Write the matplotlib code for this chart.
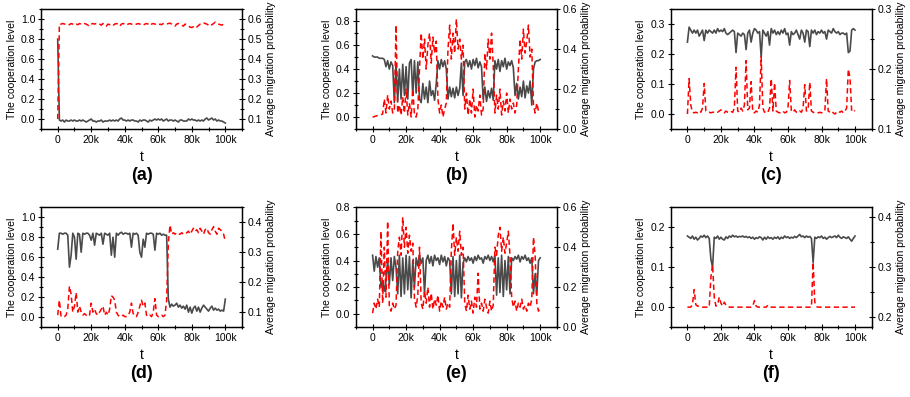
import matplotlib
matplotlib.use('Agg')
import matplotlib.pyplot as plt
from matplotlib.ticker import MultipleLocator, FixedLocator, FormatStrFormatter

plt.rcParams['font.family'] = ['Liberation Sans', 'DejaVu Sans']

# time steps (in thousands)
t_k = list(range(0, 101))

a_coop = [0.80, -0.01, -0.02, -0.01, -0.03, -0.01, -0.02, -0.02, -0.01, -0.02,
          -0.01, -0.02, -0.02, -0.01, -0.02, -0.01, -0.02, -0.03, -0.02, -0.01,
          0.00, -0.02, -0.02, -0.03, -0.02, -0.02, -0.01, -0.03, -0.02, -0.02,
          -0.02, -0.01, -0.02, -0.01, -0.02, -0.01, -0.02, 0.00, 0.01, -0.01,
          -0.01, -0.02, -0.01, -0.02, -0.01, -0.01, -0.02, -0.02, -0.03, -0.01,
          -0.02, -0.01, -0.01, -0.02, -0.03, -0.01, -0.02, -0.01, 0.00, -0.01,
          0.00, -0.01, 0.00, -0.02, -0.01, 0.00, -0.02, -0.01, -0.01, -0.02,
          -0.01, -0.02, -0.03, -0.01, -0.01, -0.02, -0.02, -0.02, 0.00, -0.01,
          0.00, -0.01, -0.01, -0.02, -0.01, -0.02, -0.01, -0.02, 0.00, 0.01,
          -0.01, 0.00, 0.01, -0.01, 0.00, -0.02, -0.01, -0.02, -0.02, -0.03, -0.04]
a_mig = [0.10, 0.575, 0.575, 0.578, 0.575, 0.578, 0.575, 0.572, 0.578, 0.575,
         0.570, 0.575, 0.572, 0.578, 0.575, 0.575, 0.578, 0.575, 0.570, 0.565,
         0.575, 0.578, 0.575, 0.578, 0.580, 0.575, 0.570, 0.578, 0.575, 0.565,
         0.575, 0.572, 0.575, 0.568, 0.575, 0.578, 0.575, 0.565, 0.575, 0.578,
         0.575, 0.570, 0.575, 0.578, 0.575, 0.575, 0.572, 0.575, 0.578, 0.575,
         0.575, 0.570, 0.575, 0.578, 0.575, 0.568, 0.575, 0.578, 0.575, 0.575,
         0.570, 0.575, 0.572, 0.578, 0.575, 0.575, 0.578, 0.580, 0.575, 0.570,
         0.565, 0.575, 0.578, 0.575, 0.570, 0.565, 0.575, 0.572, 0.565, 0.560,
         0.558, 0.562, 0.555, 0.560, 0.568, 0.575, 0.578, 0.582, 0.578, 0.575,
         0.570, 0.565, 0.572, 0.578, 0.585, 0.578, 0.575, 0.572, 0.570, 0.575, 0.575]

b_coop = [0.51, 0.50, 0.50, 0.50, 0.49, 0.49, 0.49,
          0.48, 0.42, 0.47, 0.40, 0.46, 0.43,
          0.12,
          0.45, 0.13, 0.40, 0.15, 0.44, 0.18, 0.42, 0.15, 0.45,
          0.48, 0.18, 0.47, 0.20, 0.46, 0.15,
          0.12, 0.28, 0.15, 0.25, 0.12, 0.30, 0.18, 0.22, 0.14, 0.28,
          0.47, 0.40, 0.48, 0.42, 0.47, 0.40,
          0.15, 0.25, 0.17, 0.24, 0.16, 0.25, 0.18, 0.24,
          0.45, 0.18, 0.46,
          0.48, 0.42, 0.47, 0.40, 0.48, 0.43, 0.49, 0.41, 0.46, 0.42,
          0.15, 0.25, 0.13, 0.22, 0.16, 0.24, 0.14,
          0.47, 0.40, 0.48, 0.38, 0.47, 0.42, 0.49, 0.40, 0.46, 0.43, 0.47, 0.41,
          0.18, 0.28, 0.15, 0.25, 0.17, 0.30, 0.16, 0.26, 0.20, 0.30,
          0.10, 0.40, 0.46, 0.47, 0.47, 0.48]
b_mig = [0.060, 0.062, 0.065, 0.068, 0.070, 0.072, 0.075,
         0.15, 0.08, 0.17, 0.10, 0.14, 0.08,
         0.10, 0.52, 0.08,
         0.12, 0.07, 0.16, 0.08, 0.20, 0.07, 0.13,
         0.06, 0.20, 0.07, 0.06, 0.10,
         0.30, 0.48, 0.35, 0.45, 0.30, 0.42, 0.48, 0.33, 0.46, 0.38, 0.44,
         0.15, 0.08, 0.12, 0.06, 0.10, 0.13,
         0.40, 0.52, 0.35, 0.48, 0.38, 0.55, 0.40, 0.45, 0.35, 0.42,
         0.10, 0.18, 0.07, 0.15, 0.08, 0.20, 0.06, 0.12, 0.09, 0.17, 0.07, 0.10,
         0.38, 0.30, 0.45, 0.35, 0.48, 0.32,
         0.08, 0.17, 0.10, 0.20, 0.07, 0.14, 0.09, 0.18, 0.08, 0.15, 0.10, 0.13, 0.08, 0.12,
         0.30, 0.45, 0.35, 0.50, 0.38, 0.44, 0.52, 0.36, 0.40,
         0.12, 0.08, 0.13, 0.09, 0.08]

c_coop = [0.24, 0.29, 0.28, 0.27, 0.28, 0.27, 0.28, 0.26, 0.27, 0.28,
          0.245, 0.28, 0.27, 0.28, 0.275, 0.27, 0.28, 0.27, 0.285, 0.275,
          0.28, 0.275, 0.285, 0.27, 0.265, 0.27, 0.275, 0.28, 0.275, 0.205,
          0.27, 0.265, 0.26, 0.27, 0.265, 0.215, 0.27, 0.28, 0.24, 0.27,
          0.285, 0.28, 0.27, 0.275, 0.19, 0.28, 0.27, 0.26, 0.275, 0.23,
          0.285, 0.27, 0.28, 0.265, 0.275, 0.265, 0.28, 0.27, 0.285, 0.265,
          0.27, 0.23, 0.275, 0.265, 0.27, 0.28, 0.265, 0.25, 0.28, 0.27,
          0.24, 0.28, 0.275, 0.225, 0.28, 0.27, 0.28, 0.265, 0.275, 0.27,
          0.28, 0.27, 0.275, 0.25, 0.28, 0.275, 0.27, 0.285, 0.275, 0.27,
          0.275, 0.265, 0.27, 0.27, 0.265, 0.27, 0.205, 0.21, 0.28, 0.285, 0.28]
c_mig = [0.125, 0.184, 0.14, 0.128, 0.127, 0.128, 0.127, 0.13, 0.128, 0.135,
         0.176, 0.13, 0.128, 0.128, 0.127, 0.128, 0.128, 0.129, 0.128, 0.13,
         0.132, 0.128, 0.127, 0.13, 0.128, 0.127, 0.129, 0.128, 0.135, 0.203,
         0.13, 0.128, 0.135, 0.13, 0.14, 0.214, 0.132, 0.135, 0.179, 0.128,
         0.127, 0.13, 0.128, 0.14, 0.221, 0.135, 0.128, 0.13, 0.128, 0.135,
         0.184, 0.13, 0.177, 0.13, 0.128, 0.127, 0.128, 0.13, 0.127, 0.128,
         0.135, 0.181, 0.13, 0.128, 0.132, 0.128, 0.127, 0.13, 0.128, 0.135,
         0.174, 0.13, 0.132, 0.178, 0.13, 0.128, 0.127, 0.128, 0.127, 0.128,
         0.127, 0.128, 0.13, 0.184, 0.13, 0.128, 0.13, 0.127, 0.125, 0.128,
         0.13, 0.128, 0.13, 0.127, 0.13, 0.135, 0.2, 0.185, 0.13, 0.132, 0.13]

d_coop = [0.68, 0.84, 0.84, 0.83, 0.84, 0.84, 0.82, 0.50, 0.62, 0.84,
          0.80, 0.58, 0.84, 0.83, 0.65, 0.84, 0.83, 0.84, 0.84, 0.82,
          0.77, 0.84, 0.72, 0.84, 0.83, 0.82, 0.84, 0.73, 0.84, 0.83,
          0.82, 0.84, 0.62, 0.80, 0.60, 0.84, 0.82, 0.84, 0.85, 0.83,
          0.84, 0.84, 0.83, 0.84, 0.70, 0.84, 0.83, 0.84, 0.82, 0.65,
          0.60, 0.78, 0.70, 0.84, 0.83, 0.84, 0.84, 0.83, 0.67, 0.84,
          0.83, 0.84, 0.82, 0.83, 0.82, 0.82, 0.18, 0.10, 0.13, 0.11,
          0.12, 0.14, 0.10, 0.12, 0.09, 0.11, 0.08, 0.12, 0.05, 0.10,
          0.04, 0.09, 0.11, 0.06, 0.10, 0.05, 0.09, 0.12, 0.10, 0.08,
          0.06, 0.09, 0.11, 0.07, 0.09, 0.07, 0.08, 0.06, 0.07, 0.06, 0.18]
d_mig = [0.09, 0.14, 0.085, 0.085, 0.085, 0.09, 0.11, 0.187, 0.16, 0.10,
         0.12, 0.165, 0.10, 0.12, 0.10, 0.09, 0.095, 0.09, 0.085, 0.09,
         0.13, 0.10, 0.11, 0.095, 0.09, 0.10, 0.11, 0.12, 0.09, 0.10,
         0.09, 0.11, 0.155, 0.15, 0.14, 0.10, 0.09, 0.085, 0.085, 0.09,
         0.085, 0.085, 0.09, 0.10, 0.13, 0.095, 0.09, 0.085, 0.10, 0.12,
         0.14, 0.12, 0.13, 0.09, 0.085, 0.09, 0.085, 0.10, 0.145, 0.09,
         0.085, 0.085, 0.09, 0.085, 0.09, 0.14, 0.33, 0.39, 0.36, 0.365,
         0.36, 0.365, 0.36, 0.36, 0.365, 0.36, 0.36, 0.365, 0.37, 0.36,
         0.37, 0.38, 0.37, 0.375, 0.365, 0.38, 0.37, 0.36, 0.375, 0.38,
         0.365, 0.36, 0.375, 0.385, 0.37, 0.36, 0.38, 0.375, 0.37, 0.36, 0.335]

e_coop = [0.44, 0.32, 0.43, 0.35, 0.42, 0.20, 0.24, 0.17, 0.25, 0.40,
          0.22, 0.42, 0.25, 0.43, 0.35, 0.15, 0.44, 0.13, 0.42, 0.15,
          0.44, 0.18, 0.43, 0.12, 0.40, 0.20, 0.42, 0.36, 0.44, 0.38,
          0.42, 0.15, 0.40, 0.44, 0.38, 0.43, 0.36, 0.44, 0.40, 0.42,
          0.37, 0.44, 0.39, 0.43, 0.36, 0.42, 0.40, 0.15, 0.43, 0.13,
          0.40, 0.15, 0.44, 0.12, 0.38, 0.42, 0.39, 0.43, 0.40, 0.42,
          0.38, 0.43, 0.40, 0.44, 0.41, 0.42, 0.38, 0.43, 0.41, 0.44,
          0.40, 0.43, 0.39, 0.44, 0.14, 0.42, 0.16, 0.44, 0.13, 0.40,
          0.18, 0.43, 0.15, 0.42, 0.40, 0.43, 0.41, 0.44, 0.39, 0.43,
          0.41, 0.44, 0.40, 0.42, 0.38, 0.42, 0.15, 0.30, 0.14, 0.40, 0.42]
e_mig = [0.07, 0.12, 0.09, 0.14, 0.10, 0.48, 0.12, 0.40, 0.15, 0.53,
         0.10, 0.08, 0.12, 0.09, 0.11, 0.38, 0.45, 0.36, 0.55, 0.40,
         0.50, 0.37, 0.46, 0.38, 0.42, 0.14, 0.10, 0.16, 0.40, 0.12,
         0.09, 0.18, 0.12, 0.20, 0.10, 0.17, 0.09, 0.14, 0.11, 0.16,
         0.08, 0.13, 0.10, 0.15, 0.09, 0.12, 0.10, 0.38, 0.52, 0.36,
         0.45, 0.38, 0.48, 0.36, 0.40, 0.12, 0.08, 0.16, 0.09, 0.13,
         0.07, 0.15, 0.10, 0.27, 0.09, 0.12, 0.08, 0.14, 0.10, 0.07,
         0.13, 0.08, 0.11, 0.40, 0.36, 0.46, 0.50, 0.38, 0.45, 0.37,
         0.42, 0.48, 0.36, 0.15, 0.10, 0.13, 0.08, 0.12, 0.10, 0.14,
         0.09, 0.11, 0.08, 0.12, 0.10, 0.14, 0.45, 0.36, 0.12, 0.08, 0.10]

f_coop = [0.178, 0.175, 0.172, 0.178, 0.170, 0.175, 0.168, 0.172, 0.178, 0.175,
          0.180, 0.174, 0.178, 0.172, 0.120, 0.100, 0.175, 0.172, 0.178, 0.170,
          0.175, 0.170, 0.168, 0.176, 0.172, 0.178, 0.175, 0.180, 0.176, 0.178,
          0.175, 0.177, 0.176, 0.178, 0.175, 0.177, 0.174, 0.176, 0.172, 0.175,
          0.170, 0.174, 0.172, 0.176, 0.174, 0.168, 0.175, 0.170, 0.176, 0.172,
          0.174, 0.170, 0.175, 0.172, 0.176, 0.170, 0.175, 0.172, 0.178, 0.174,
          0.176, 0.172, 0.175, 0.173, 0.177, 0.174, 0.178, 0.182, 0.176, 0.178,
          0.174, 0.178, 0.175, 0.177, 0.172, 0.112, 0.175, 0.172, 0.176, 0.174,
          0.178, 0.172, 0.175, 0.170, 0.174, 0.177, 0.174, 0.176, 0.178, 0.174,
          0.180, 0.175, 0.172, 0.176, 0.174, 0.172, 0.176, 0.170, 0.165, 0.172, 0.178]
f_mig = [0.22, 0.22, 0.22, 0.225, 0.255, 0.225, 0.222, 0.222, 0.221, 0.22,
         0.22, 0.22, 0.22, 0.22, 0.28, 0.305, 0.24, 0.222, 0.225, 0.24,
         0.228, 0.222, 0.23, 0.224, 0.221, 0.22, 0.22, 0.22, 0.22, 0.22,
         0.22, 0.22, 0.22, 0.22, 0.22, 0.22, 0.22, 0.22, 0.22, 0.222,
         0.233, 0.222, 0.22, 0.22, 0.22, 0.22, 0.22, 0.22, 0.224, 0.221,
         0.22, 0.22, 0.22, 0.22, 0.22, 0.22, 0.22, 0.22, 0.22, 0.22,
         0.22, 0.22, 0.22, 0.22, 0.22, 0.22, 0.22, 0.22, 0.22, 0.22,
         0.22, 0.22, 0.22, 0.22, 0.22, 0.31, 0.23, 0.221, 0.22, 0.22,
         0.22, 0.22, 0.22, 0.22, 0.22, 0.22, 0.22, 0.22, 0.22, 0.22,
         0.22, 0.22, 0.22, 0.22, 0.22, 0.22, 0.22, 0.22, 0.22, 0.22, 0.22]

panel_labels = ['(a)', '(b)', '(c)', '(d)', '(e)', '(f)']
x_tick_labels = ['0', '20k', '40k', '60k', '80k', '100k']

GRAY = '#4a4a4a'
RED = '#ff0000'


def style_axis(ax, major, minor):
    ax.yaxis.set_major_locator(MultipleLocator(major))
    ax.yaxis.set_minor_locator(MultipleLocator(minor))
    ax.yaxis.set_major_formatter(FormatStrFormatter('%.1f'))
    ax.tick_params(which='major', direction='inout', length=4, width=0.8,
                   labelsize=7.5, pad=2)
    ax.tick_params(which='minor', direction='inout', length=2.5, width=0.8)


def draw_panel(fig, rect, coop, mig, left_lim, right_lim, left_tick, right_tick, label):
    ax = fig.add_axes(rect)
    ax2 = ax.twinx()
    t = [v * 1000 for v in t_k]
    ax.plot(t, coop, color=GRAY, lw=1.2)
    ax2.plot(t, mig, color=RED, lw=1.1, linestyle=(0, (3.5, 2.2)))

    ax.set_xlim(-10000, 110000)
    ax.set_ylim(*left_lim)
    ax2.set_ylim(*right_lim)

    ax.xaxis.set_major_locator(FixedLocator([0, 20000, 40000, 60000, 80000, 100000]))
    ax.xaxis.set_minor_locator(MultipleLocator(10000))
    ax.set_xticklabels(x_tick_labels)

    style_axis(ax, *left_tick)
    style_axis(ax2, *right_tick)

    ax.set_ylabel('The cooperation level', fontsize=7.5, labelpad=3)
    ax2.set_ylabel('Average migration probability', fontsize=7.5, labelpad=3)
    ax.set_xlabel('t', fontsize=10, labelpad=4)
    for sp in list(ax.spines.values()) + list(ax2.spines.values()):
        sp.set_linewidth(0.9)

    x0, y0, w, h = rect
    fig.text(x0 + w / 2, y0 - 0.118, label, ha='center', va='center',
             fontsize=13, fontweight='bold')


fig = plt.figure(figsize=(9.1, 3.97), dpi=100)

cols = [0.045, 0.391, 0.737]
w = 0.221
row1 = 0.675
row2 = 0.176
h = 0.302

draw_panel(fig, [cols[0], row1, w, h], a_coop, a_mig, (-0.1, 1.1), (0.05, 0.65),
           (0.2, 0.1), (0.1, 0.05), panel_labels[0])
draw_panel(fig, [cols[1], row1, w, h], b_coop, b_mig, (-0.1, 0.9), (0.0, 0.6),
           (0.2, 0.1), (0.2, 0.1), panel_labels[1])
draw_panel(fig, [cols[2], row1, w, h], c_coop, c_mig, (-0.05, 0.35), (0.1, 0.3),
           (0.1, 0.05), (0.1, 0.05), panel_labels[2])
draw_panel(fig, [cols[0], row2, w, h], d_coop, d_mig, (-0.1, 1.1), (0.05, 0.45),
           (0.2, 0.1), (0.1, 0.05), panel_labels[3])
draw_panel(fig, [cols[1], row2, w, h], e_coop, e_mig, (-0.1, 0.8), (0.0, 0.6),
           (0.2, 0.1), (0.2, 0.1), panel_labels[4])
draw_panel(fig, [cols[2], row2, w, h], f_coop, f_mig, (-0.05, 0.25), (0.18, 0.42),
           (0.1, 0.05), (0.1, 0.05), panel_labels[5])

fig.savefig('out.png', dpi=100)
